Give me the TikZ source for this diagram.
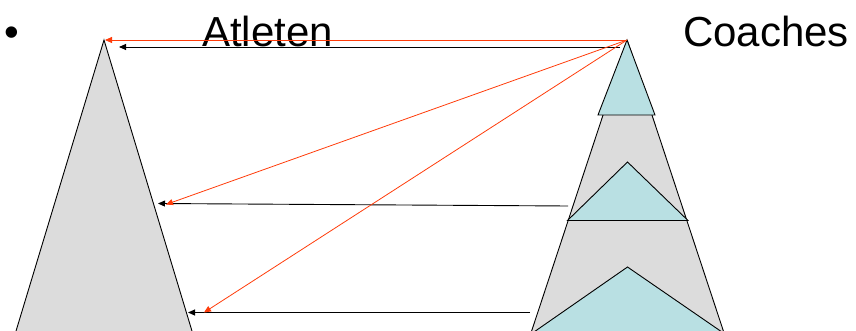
\documentclass[tikz,border=0pt]{standalone}
\usepackage{fontspec}
\setmainfont{Liberation Sans}
\usetikzlibrary{arrows.meta}
\definecolor{grayfill}{RGB}{220,220,220}
\definecolor{bluefill}{RGB}{185,224,227}
\definecolor{redline}{RGB}{255,60,10}
\tikzset{
  shapeline/.style={draw=black, line width=0.9pt, line join=miter},
  redarrow/.style={draw=redline, line width=0.8pt, -{Triangle[length=7pt,width=6pt]}},
  blackarrow/.style={draw=black, line width=0.9pt, -{Triangle[length=7pt,width=6pt]}},
  bigtext/.style={font=\fontsize{42}{50}\selectfont, inner sep=0pt, anchor=base west}
}
\begin{document}
\begin{tikzpicture}[x=1pt,y=-1pt]
\useasboundingbox (0,0) rectangle (856,331);
\begin{scope}
\clip (0,0) rectangle (856,331);
% left triangle
\filldraw[shapeline, fill=grayfill] (104,40) -- (13,341) -- (195,341) -- cycle;
% right big gray triangle
\filldraw[shapeline, fill=grayfill] (627.5,41) -- (527,345) -- (728,345) -- cycle;
% top blue triangle
\filldraw[shapeline, fill=bluefill] (627,40) -- (598,115) -- (655,115) -- cycle;
% middle blue triangle
\filldraw[shapeline, fill=bluefill] (627.5,162) -- (567.5,220.5) -- (688,220.5) -- cycle;
% bottom blue triangle
\filldraw[shapeline, fill=bluefill] (627.5,267) -- (521,341) -- (735,341) -- cycle;
\end{scope}
% texts
\node[bigtext] (bullet) at (4,47) {•};
\node[bigtext] (atl) at (202,47) {Atleten};
\node[bigtext] (coa) at (683,47) {Coaches};
% coordinates
\coordinate (src) at (627,40);
\coordinate (rt1) at (105,40);
\coordinate (rt2) at (166,204.5);
\coordinate (rt3) at (204,312.5);
\coordinate (bs1) at (620,47);
\coordinate (bt1) at (119,47);
\coordinate (bs2) at (568,206);
\coordinate (bt2) at (158,203.5);
\coordinate (bs3) at (530,312.5);
\coordinate (bt3) at (188,312.5);
% arrows
\draw[blackarrow] (bs1) -- (bt1);
\draw[blackarrow] (bs2) -- (bt2);
\draw[blackarrow] (bs3) -- (bt3);
\draw[redarrow] (src) -- (rt1);
\draw[redarrow] (src) -- (rt2);
\draw[redarrow] (src) -- (rt3);
\end{tikzpicture}
\end{document}
